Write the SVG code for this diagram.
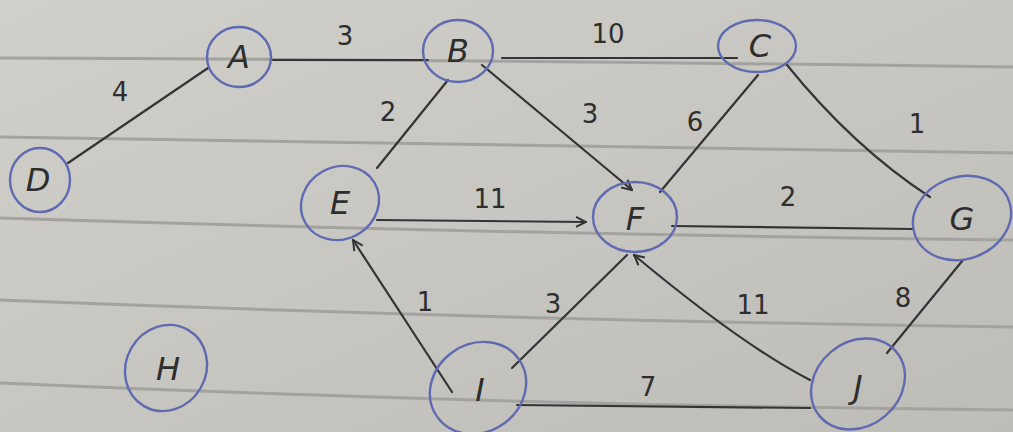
<svg xmlns="http://www.w3.org/2000/svg" width="1013" height="432" viewBox="0 0 1013 432">
<defs>
<linearGradient id="paper" x1="0" y1="0" x2="1" y2="1">
<stop offset="0" stop-color="#d0cfca"/>
<stop offset="0.5" stop-color="#c7c6c1"/>
<stop offset="1" stop-color="#bdbcb7"/>
</linearGradient>
<marker id="arr" viewBox="0 0 12 12" refX="11" refY="6" markerWidth="12" markerHeight="12" markerUnits="userSpaceOnUse" orient="auto">
<path d="M1,1 L11,6 L1,11" fill="none" stroke="#333" stroke-width="2"/>
</marker>
<style>
.rule{fill:none;stroke:#a3a29e;stroke-width:3}
.edge{fill:none;stroke:#343434;stroke-width:2.2;stroke-linecap:round}
.ring{fill:none;stroke:#5f6bb0;stroke-width:2.4}
.nl{font-family:"DejaVu Sans",sans-serif;font-size:32px;fill:#2e2e2e;text-anchor:middle;font-style:italic}
.el{font-family:"DejaVu Sans",sans-serif;font-size:26px;fill:#2e2e2e;text-anchor:middle}
</style>
</defs>
<rect width="1013" height="432" fill="url(#paper)"/>
<g id="rules">
<path class="rule" d="M0,58 Q500,60 1013,67"/>
<path class="rule" d="M0,137 Q500,146 1013,153"/>
<path class="rule" d="M0,218 Q500,234 1013,240"/>
<path class="rule" d="M0,300 Q500,320 1013,327"/>
<path class="rule" d="M0,383 Q500,405 1013,410"/>
</g>
<g id="connectors">
<path class="edge" d="M68,163 L208,68"/>
<path class="edge" d="M273,60 L428,60"/>
<path class="edge" d="M502,58 Q620,58 737,58"/>
<path class="edge" d="M448,80 L377,168"/>
<path class="edge" d="M482,65 L632,190" marker-end="url(#arr)"/>
<path class="edge" d="M758,75 L660,192"/>
<path class="edge" d="M787,65 C825,112 870,158 930,197"/>
<path class="edge" d="M377,220 L586,222" marker-end="url(#arr)"/>
<path class="edge" d="M672,226 L913,229"/>
<path class="edge" d="M452,392 L353,240" marker-end="url(#arr)"/>
<path class="edge" d="M512,368 L627,255"/>
<path class="edge" d="M517,405 L810,408"/>
<path class="edge" d="M810,380 C765,357 700,310 634,255" marker-end="url(#arr)"/>
<path class="edge" d="M963,260 L887,353"/>
<g id="edge-labels">
<text class="el" x="120" y="101">4</text>
<text class="el" x="345" y="45">3</text>
<text class="el" x="608" y="43">10</text>
<text class="el" x="388" y="121">2</text>
<text class="el" x="590" y="123">3</text>
<text class="el" x="695" y="131">6</text>
<text class="el" x="917" y="133">1</text>
<text class="el" x="490" y="208">11</text>
<text class="el" x="788" y="206">2</text>
<text class="el" x="425" y="311">1</text>
<text class="el" x="553" y="313">3</text>
<text class="el" x="648" y="396">7</text>
<text class="el" x="753" y="314">11</text>
<text class="el" x="903" y="307">8</text>
</g>
</g>
<g id="node-A"><ellipse class="ring" cx="239" cy="57" rx="32" ry="30"/><text class="nl" x="239" y="68">A</text></g>
<g id="node-B"><ellipse class="ring" cx="458" cy="51" rx="35" ry="31"/><text class="nl" x="458" y="62">B</text></g>
<g id="node-C"><ellipse class="ring" cx="757" cy="46" rx="39" ry="26"/><text class="nl" x="760" y="57">C</text></g>
<g id="node-D"><ellipse class="ring" cx="40" cy="180" rx="30" ry="32"/><text class="nl" x="38" y="191">D</text></g>
<g id="node-E"><ellipse class="ring" cx="340" cy="203" rx="40" ry="36" transform="rotate(-30 340 203)"/><text class="nl" x="340" y="214">E</text></g>
<g id="node-F"><ellipse class="ring" cx="635" cy="217" rx="42" ry="35"/><text class="nl" x="635" y="230">F</text></g>
<g id="node-G"><ellipse class="ring" cx="962" cy="218" rx="50" ry="41" transform="rotate(-20 962 218)"/><text class="nl" x="962" y="230">G</text></g>
<g id="node-H"><ellipse class="ring" cx="166" cy="368" rx="40" ry="44" transform="rotate(30 166 368)"/><text class="nl" x="168" y="380">H</text></g>
<g id="node-I"><ellipse class="ring" cx="478" cy="388" rx="50" ry="44" transform="rotate(-35 478 388)"/><text class="nl" x="480" y="401">I</text></g>
<g id="node-J"><ellipse class="ring" cx="858" cy="384" rx="50" ry="42" transform="rotate(-40 858 384)"/><text class="nl" x="858" y="398">J</text></g>
</svg>
